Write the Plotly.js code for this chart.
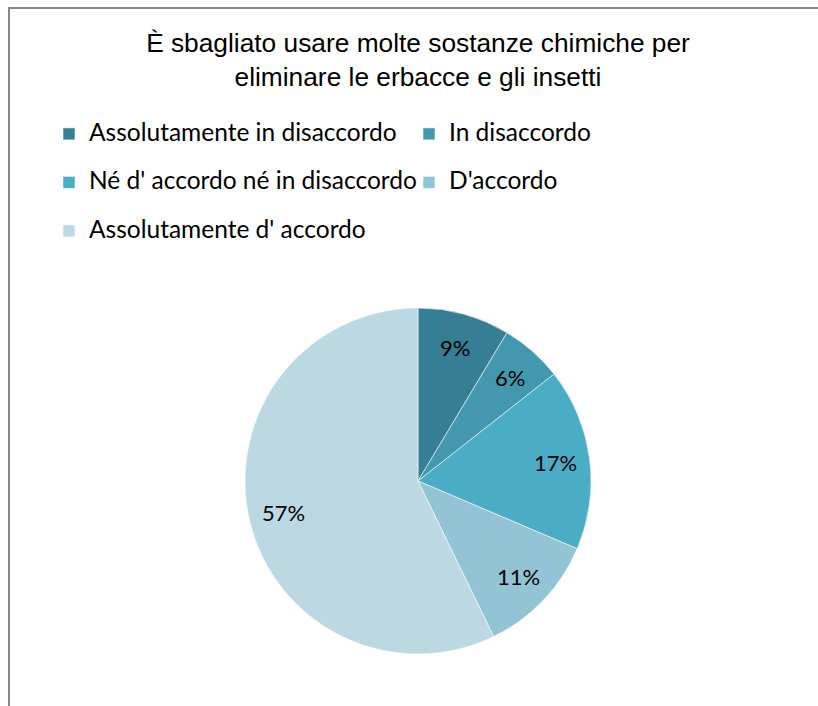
<!DOCTYPE html>
<html>
<head>
<meta charset="utf-8">
<script src="https://cdn.plot.ly/plotly-3.0.1.min.js"></script>
<style>
  html, body { margin: 0; padding: 0; background: #ffffff; }
  #wrap { position: relative; width: 818px; height: 706px; overflow: hidden; }
  #chart { position: absolute; left: 0; top: 0; width: 818px; height: 706px; }
  #frame { position: absolute; left: 8px; top: 7px; width: 900px; height: 900px;
           border-left: 2px solid #888888; border-top: 2px solid #888888; pointer-events: none; }
</style>
</head>
<body>
<div id="wrap">
  <div id="chart"></div>
  <div id="frame"></div>
</div>
<script>
const categories = [
  "Assolutamente in disaccordo",
  "In disaccordo",
  "Né d' accordo né in disaccordo",
  "D'accordo",
  "Assolutamente d' accordo"
];
const values = [8.6, 5.8, 17.0, 11.4, 57.2];
const colors = ["#367e93", "#4397ae", "#4bacc6", "#93c4d5", "#bcd8e3"];
const titleText = "È sbagliato usare molte sostanze chimiche per<br>eliminare le erbacce e gli insetti";

const W = 818, H = 706;
const cx = 418, cy = 481, R = 173;
const labelFont = "Lato, 'Open Sans', sans-serif";

const trace = {
  type: "pie",
  labels: categories.map(c => "<span style='font-size:24.5px'>" + c + "</span><br> "),
  values: values,
  sort: false,
  direction: "clockwise",
  rotation: 0,
  marker: { colors: colors, line: { color: "rgba(255,255,255,0.55)", width: 1 } },
  textinfo: "none",
  domain: { x: [(cx - R) / W, (cx + R) / W], y: [(H - cy - R) / H, (H - cy + R) / H] },
  hoverinfo: "percent"
};

// percentage labels placed on each slice's mid-angle (derived from the values)
const total = values.reduce((a, b) => a + b, 0);
const annotations = [];
let cum = 0;
values.forEach((v) => {
  const mid = (cum + v / 2) / total * 2 * Math.PI;
  cum += v;
  const r = 0.8 * R;
  annotations.push({
    text: Math.round(v / total * 100) + "%",
    xref: "paper", yref: "paper",
    x: (cx + r * Math.sin(mid)) / W,
    y: (H - (cy - r * Math.cos(mid))) / H,
    xanchor: "center", yanchor: "middle",
    showarrow: false,
    font: { family: labelFont, size: 22, color: "#000000" }
  });
});

const layout = {
  width: W, height: H,
  margin: { l: 0, r: 0, t: 0, b: 0 },
  paper_bgcolor: "rgba(0,0,0,0)",
  title: {
    text: titleText,
    font: { family: "'Liberation Sans', Arial, sans-serif", size: 26.3, color: "#000000" },
    x: cx / W, xref: "paper", xanchor: "center",
    y: 1 - 52 / H, yref: "container", yanchor: "top"
  },
  showlegend: true,
  legend: {
    orientation: "h",
    x: 49 / W, xanchor: "left",
    y: 1 - 116 / H, yanchor: "top",
    valign: "top",
    entrywidth: 315,
    font: { family: labelFont, size: 17.5, color: "#000000" },
    bgcolor: "rgba(0,0,0,0)"
  },
  annotations: annotations
};

Plotly.newPlot("chart", [trace], layout, { displayModeBar: false, staticPlot: true });
</script>
</body>
</html>
